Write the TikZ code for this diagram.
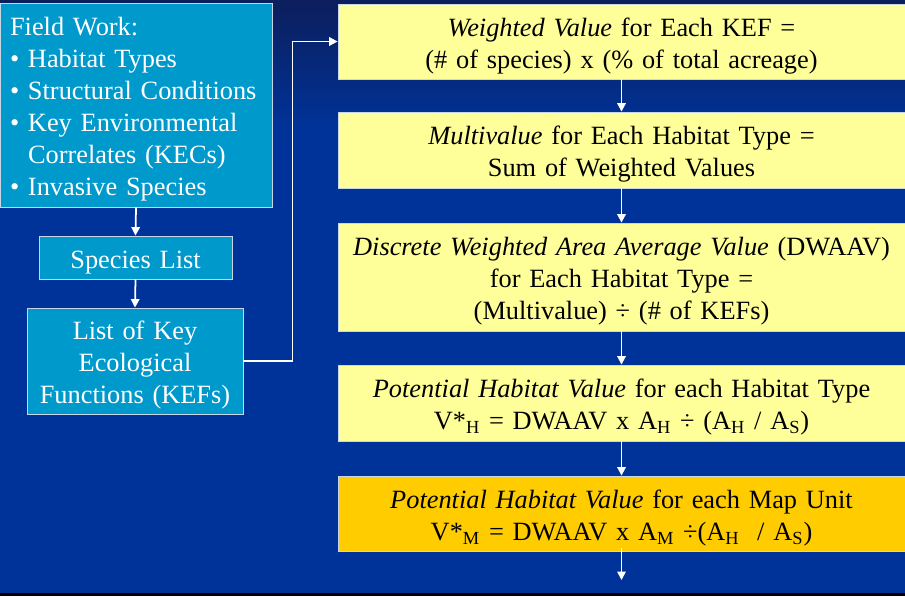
\documentclass[tikz,border=0pt]{standalone}
\usepackage{fontspec}
\setmainfont[WordSpace=0.72]{Liberation Serif}
\usetikzlibrary{arrows.meta}

\definecolor{bgblue}{RGB}{0,51,153}
\definecolor{topblue}{RGB}{12,30,92}
\definecolor{fieldcyan}{RGB}{0,153,204}
\definecolor{calcyellow}{RGB}{255,255,153}
\definecolor{calcgold}{RGB}{255,204,0}
\definecolor{edgegray}{RGB}{200,215,232}

\newcommand{\bul}{\makebox[0.36cm][l]{\textbullet}}

\tikzset{
    textdown/.style={execute at begin node={\rule{0pt}{15.5pt}}},
    leftbox/.style={draw=edgegray, line width=0.5pt, fill=fieldcyan, text=white, inner sep=0pt, align=center, textdown},
    calcbox/.style={draw=edgegray, line width=0.5pt, fill=calcyellow, text=black, inner sep=0pt, align=center,
        text width=11.34cm, minimum height=1.52cm, textdown},
    flow/.style={draw=white, line width=1pt, -{Triangle[width=0.17cm,length=0.17cm]}}
}

\begin{document}
\begin{tikzpicture}[x=0.02cm, y=-0.02cm, font=\fontsize{15pt}{18.2pt}\selectfont]
        % the background
        \useasboundingbox (0,0) rectangle (905,596);
        \fill[bgblue] (0,0) rectangle (905,596);
        \shade[top color=topblue, bottom color=bgblue] (0,0) rectangle (905,130);
        \fill[black] (0,593) rectangle (905,596);

        % the boxes on the left
        \node[leftbox, align=left, text width=5.04cm, inner xsep=0.2cm, minimum height=4.08cm] (field) at (136,105)
            {Field Work:\\
             \bul Habitat Types\\
             \bul Structural Conditions\\
             \bul Key Environmental\\
             \hspace*{0.36cm}Correlates (KECs)\\
             \bul Invasive Species};
        \node[leftbox, text width=3.86cm, minimum height=0.86cm] (species) at (135.5,257.5) {Species List};
        \node[leftbox, text width=4.32cm, minimum height=2.12cm] (kef) at (135,361)
            {List of Key\\Ecological\\Functions (KEFs)};

        % the calculation steps on the right
        \node[calcbox, minimum height=1.5cm] (wv) at (621.5,41.5)
            {\textit{Weighted Value} for Each KEF =\\(\# of species) x (\% of total acreage)};
        \node[calcbox] (mv) at (621.5,150)
            {\textit{Multivalue} for Each Habitat Type =\\Sum of Weighted Values};
        \node[calcbox, minimum height=2.16cm] (dw) at (621.5,277)
            {\textit{Discrete Weighted Area Average Value} (DWAAV)\\for Each Habitat Type =\\(Multivalue) ÷ (\# of KEFs)};
        \node[calcbox] (ht) at (621.5,403)
            {\textit{Potential Habitat Value} for each Habitat Type\\
             V*\textsubscript{H} = DWAAV x A\textsubscript{H} ÷ (A\textsubscript{H} / A\textsubscript{S})};
        \node[calcbox, fill=calcgold, minimum height=1.5cm] (mu) at (621.5,513.5)
            {\textit{Potential Habitat Value} for each Map Unit\\
             V*\textsubscript{M} = DWAAV x A\textsubscript{M} ÷(A\textsubscript{H}~ / A\textsubscript{S})};
        \coordinate (out) at (621.5,580);

        % draw the arrows
        \draw[flow] (field.south) -- (species.north);
        \draw[flow] (species.south) -- (kef.north);
        \draw[flow] (kef.east) -- ++(49,0) |- (wv.west);
        \draw[flow] (wv.south) -- (mv.north);
        \draw[flow] (mv.south) -- (dw.north);
        \draw[flow] (dw.south) -- (ht.north);
        \draw[flow] (ht.south) -- (mu.north);
        \draw[flow] ([yshift=0.06cm]mu.south) -- (out);

    \end{tikzpicture}
\end{document}
